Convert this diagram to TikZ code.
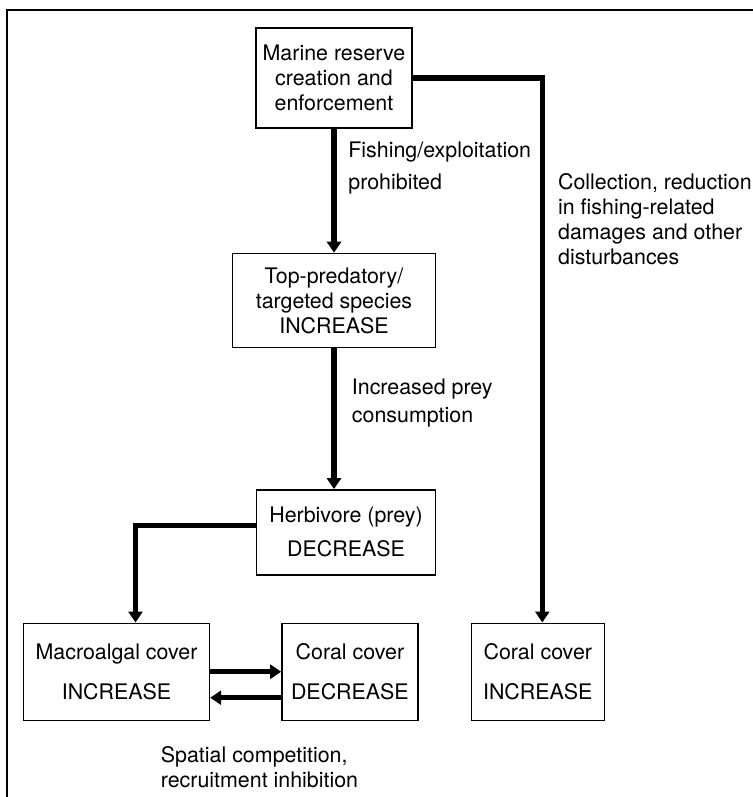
\documentclass[tikz,border=0pt]{standalone}
\usepackage{fontspec}
\setmainfont{TeX Gyre Heros}
\usetikzlibrary{positioning,arrows.meta}

\begin{document}
\begin{tikzpicture}[font=\fontsize{10.7}{12.5}\selectfont,
  box/.style={rectangle, draw, line width=0.7pt, inner sep=0pt, align=center, minimum height=48.5pt},
  lab/.style={inner sep=0pt, align=left},
  arr/.style={line width=2.6pt, -{Triangle[length=5.5pt,width=7pt]}}]

\useasboundingbox (0,0) rectangle (376.5pt,-398.5pt);
\draw[line width=1.1pt] (3.5pt,-398.5pt) -- (3.5pt,-5pt) -- (376.5pt,-5pt);

% Nodes
\node (mr) [box, minimum width=78pt, minimum height=50pt] at (167pt,-39pt) {Marine reserve\\creation and\\enforcement};
\node (top) [box, minimum width=101.5pt, minimum height=47pt, below=62pt of mr] {Top-predatory/\\targeted species\\INCREASE};
\node (herb) [box, minimum width=89.5pt, minimum height=42.5pt, below=70.5pt of top, xshift=6pt] {Herbivore (prey)\\[4.5pt]DECREASE};
\node (macro) [box, minimum width=93pt, below=23.5pt of herb, xshift=-114.75pt] {Macroalgal cover\\[7.5pt]INCREASE};
\node (cdec) [box, minimum width=68pt, right=35.5pt of macro] {Coral cover\\[7.5pt]DECREASE};
\node (cinc) [box, minimum width=66.5pt, right=26pt of cdec] {Coral cover\\[7.5pt]INCREASE};

% Labels
\node (fish) [lab, below right=6.5pt and 7pt of mr.south] {Fishing/exploitation\\[3.5pt]prohibited};
\node (coll) [lab, below right=47.5pt and 72.5pt of mr.east] {Collection, reduction\\in fishing-related\\damages and other\\disturbances};
\node (prey) [lab, below right=15pt and 8.75pt of top.south] {Increased prey\\[1.5pt]consumption};
\node (spat) [lab, below right=12.5pt and 22pt of macro.south] {Spatial competition,\\recruitment inhibition};

% Arrows
\draw[arr] (mr) -- (top);
\draw[arr] (top.south) -- (top.south |- herb.north);
\draw[arr] (mr.east) -| ([xshift=2.25pt]cinc.north);
\draw[arr] ([yshift=3.25pt]herb.west) -| ([xshift=9.5pt]macro.north);
\draw[arr] (macro.east) -- (cdec.west);
\draw[arr] ([yshift=-13pt]cdec.west) -- ([yshift=-13pt]macro.east);

\end{tikzpicture}
\end{document}
